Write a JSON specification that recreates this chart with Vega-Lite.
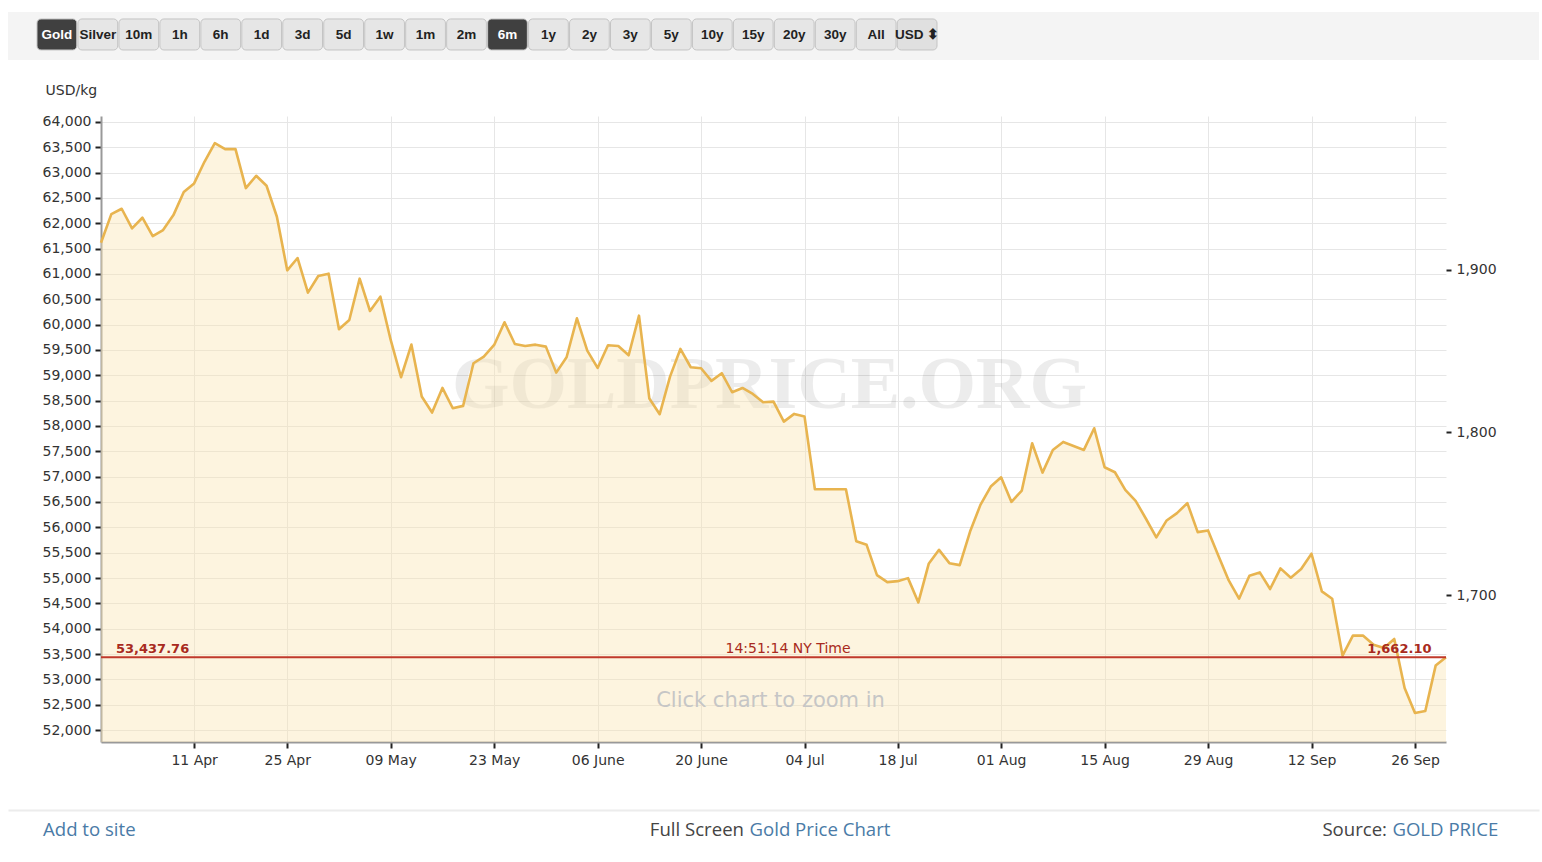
{
  "$schema": "https://vega.github.io/schema/vega-lite/v6.json",
  "background": "#ffffff",
  "padding": {"left": 8, "top": 12, "right": 3, "bottom": 7},
  "spacing": 56,
  "center": true,
  "bounds": "flush",
  "config": {
    "font": "DejaVu Sans",
    "view": {"stroke": null},
    "axisLeft": {"tickCount": 25, "labelOverlap": false}
  },
  "datasets": {
    "prices": [
      {"date": "2022-03-29", "usd_kg": 61615}, {"date": "2022-03-30", "usd_kg": 62180}, {"date": "2022-03-31", "usd_kg": 62285},
      {"date": "2022-04-01", "usd_kg": 61898}, {"date": "2022-04-04", "usd_kg": 62108}, {"date": "2022-04-05", "usd_kg": 61746},
      {"date": "2022-04-06", "usd_kg": 61865}, {"date": "2022-04-07", "usd_kg": 62160}, {"date": "2022-04-08", "usd_kg": 62614},
      {"date": "2022-04-11", "usd_kg": 62785}, {"date": "2022-04-12", "usd_kg": 63212}, {"date": "2022-04-13", "usd_kg": 63580},
      {"date": "2022-04-14", "usd_kg": 63461}, {"date": "2022-04-18", "usd_kg": 63461}, {"date": "2022-04-19", "usd_kg": 62693},
      {"date": "2022-04-20", "usd_kg": 62936}, {"date": "2022-04-21", "usd_kg": 62739}, {"date": "2022-04-22", "usd_kg": 62128},
      {"date": "2022-04-25", "usd_kg": 61070}, {"date": "2022-04-26", "usd_kg": 61313}, {"date": "2022-04-27", "usd_kg": 60630},
      {"date": "2022-04-28", "usd_kg": 60958}, {"date": "2022-04-29", "usd_kg": 61004}, {"date": "2022-05-02", "usd_kg": 59907},
      {"date": "2022-05-03", "usd_kg": 60091}, {"date": "2022-05-04", "usd_kg": 60906}, {"date": "2022-05-05", "usd_kg": 60268},
      {"date": "2022-05-06", "usd_kg": 60551}, {"date": "2022-05-09", "usd_kg": 59697}, {"date": "2022-05-10", "usd_kg": 58961},
      {"date": "2022-05-11", "usd_kg": 59605}, {"date": "2022-05-12", "usd_kg": 58580}, {"date": "2022-05-13", "usd_kg": 58264},
      {"date": "2022-05-16", "usd_kg": 58751}, {"date": "2022-05-17", "usd_kg": 58350}, {"date": "2022-05-18", "usd_kg": 58396},
      {"date": "2022-05-19", "usd_kg": 59237}, {"date": "2022-05-20", "usd_kg": 59368}, {"date": "2022-05-23", "usd_kg": 59598},
      {"date": "2022-05-24", "usd_kg": 60046}, {"date": "2022-05-25", "usd_kg": 59618}, {"date": "2022-05-26", "usd_kg": 59578},
      {"date": "2022-05-27", "usd_kg": 59604}, {"date": "2022-05-30", "usd_kg": 59565}, {"date": "2022-05-31", "usd_kg": 59052},
      {"date": "2022-06-01", "usd_kg": 59355}, {"date": "2022-06-02", "usd_kg": 60124}, {"date": "2022-06-03", "usd_kg": 59486},
      {"date": "2022-06-06", "usd_kg": 59145}, {"date": "2022-06-07", "usd_kg": 59592}, {"date": "2022-06-08", "usd_kg": 59578},
      {"date": "2022-06-09", "usd_kg": 59395}, {"date": "2022-06-10", "usd_kg": 60176}, {"date": "2022-06-13", "usd_kg": 58540},
      {"date": "2022-06-14", "usd_kg": 58232}, {"date": "2022-06-15", "usd_kg": 58973}, {"date": "2022-06-16", "usd_kg": 59519},
      {"date": "2022-06-17", "usd_kg": 59158}, {"date": "2022-06-20", "usd_kg": 59138}, {"date": "2022-06-21", "usd_kg": 58889},
      {"date": "2022-06-22", "usd_kg": 59040}, {"date": "2022-06-23", "usd_kg": 58665}, {"date": "2022-06-24", "usd_kg": 58750},
      {"date": "2022-06-27", "usd_kg": 58632}, {"date": "2022-06-28", "usd_kg": 58468}, {"date": "2022-06-29", "usd_kg": 58480},
      {"date": "2022-06-30", "usd_kg": 58086}, {"date": "2022-07-01", "usd_kg": 58238}, {"date": "2022-07-04", "usd_kg": 58185},
      {"date": "2022-07-05", "usd_kg": 56752}, {"date": "2022-07-06", "usd_kg": 56752}, {"date": "2022-07-07", "usd_kg": 56752},
      {"date": "2022-07-11", "usd_kg": 56752}, {"date": "2022-07-12", "usd_kg": 55727}, {"date": "2022-07-13", "usd_kg": 55655},
      {"date": "2022-07-14", "usd_kg": 55057}, {"date": "2022-07-15", "usd_kg": 54919}, {"date": "2022-07-18", "usd_kg": 54938},
      {"date": "2022-07-19", "usd_kg": 54998}, {"date": "2022-07-20", "usd_kg": 54518}, {"date": "2022-07-21", "usd_kg": 55280},
      {"date": "2022-07-22", "usd_kg": 55556}, {"date": "2022-07-25", "usd_kg": 55293}, {"date": "2022-07-26", "usd_kg": 55254},
      {"date": "2022-07-27", "usd_kg": 55917}, {"date": "2022-07-28", "usd_kg": 56443}, {"date": "2022-07-29", "usd_kg": 56804},
      {"date": "2022-08-01", "usd_kg": 56988}, {"date": "2022-08-02", "usd_kg": 56502}, {"date": "2022-08-03", "usd_kg": 56725},
      {"date": "2022-08-04", "usd_kg": 57658}, {"date": "2022-08-05", "usd_kg": 57080}, {"date": "2022-08-08", "usd_kg": 57527},
      {"date": "2022-08-09", "usd_kg": 57685}, {"date": "2022-08-10", "usd_kg": 57606}, {"date": "2022-08-11", "usd_kg": 57527},
      {"date": "2022-08-12", "usd_kg": 57954}, {"date": "2022-08-15", "usd_kg": 57185}, {"date": "2022-08-16", "usd_kg": 57087},
      {"date": "2022-08-17", "usd_kg": 56739}, {"date": "2022-08-18", "usd_kg": 56524}, {"date": "2022-08-19", "usd_kg": 56169},
      {"date": "2022-08-22", "usd_kg": 55801}, {"date": "2022-08-23", "usd_kg": 56136}, {"date": "2022-08-24", "usd_kg": 56281},
      {"date": "2022-08-25", "usd_kg": 56478}, {"date": "2022-08-26", "usd_kg": 55906}, {"date": "2022-08-29", "usd_kg": 55939},
      {"date": "2022-08-30", "usd_kg": 55440}, {"date": "2022-08-31", "usd_kg": 54953}, {"date": "2022-09-01", "usd_kg": 54592},
      {"date": "2022-09-02", "usd_kg": 55045}, {"date": "2022-09-05", "usd_kg": 55111}, {"date": "2022-09-06", "usd_kg": 54783},
      {"date": "2022-09-07", "usd_kg": 55190}, {"date": "2022-09-08", "usd_kg": 55006}, {"date": "2022-09-09", "usd_kg": 55177},
      {"date": "2022-09-12", "usd_kg": 55479}, {"date": "2022-09-13", "usd_kg": 54737}, {"date": "2022-09-14", "usd_kg": 54592},
      {"date": "2022-09-15", "usd_kg": 53469}, {"date": "2022-09-16", "usd_kg": 53863}, {"date": "2022-09-19", "usd_kg": 53863},
      {"date": "2022-09-20", "usd_kg": 53685}, {"date": "2022-09-21", "usd_kg": 53620}, {"date": "2022-09-22", "usd_kg": 53797},
      {"date": "2022-09-23", "usd_kg": 52831}, {"date": "2022-09-26", "usd_kg": 52339}, {"date": "2022-09-27", "usd_kg": 52378},
      {"date": "2022-09-28", "usd_kg": 53272}, {"date": "2022-09-29", "usd_kg": 53437.76}
    ],
    "current": [{"usd_kg": 53437.76, "usd_oz": 1662.10, "time": "14:51:14 NY Time"}],
    "buttons": [
      {"label": "Gold", "state": "on"}, {"label": "Silver", "state": "off"}, {"label": "10m", "state": "off"},
      {"label": "1h", "state": "off"}, {"label": "6h", "state": "off"}, {"label": "1d", "state": "off"},
      {"label": "3d", "state": "off"}, {"label": "5d", "state": "off"}, {"label": "1w", "state": "off"},
      {"label": "1m", "state": "off"}, {"label": "2m", "state": "off"}, {"label": "6m", "state": "on"},
      {"label": "1y", "state": "off"}, {"label": "2y", "state": "off"}, {"label": "3y", "state": "off"},
      {"label": "5y", "state": "off"}, {"label": "10y", "state": "off"}, {"label": "15y", "state": "off"},
      {"label": "20y", "state": "off"}, {"label": "30y", "state": "off"}, {"label": "All", "state": "off"},
      {"label": "USD ⬍", "state": "menu"}
    ],
    "footer": [
      {"label": "Add to site", "slot": "left"},
      {"label": "Full Screen", "slot": "center"},
      {"label": "Gold Price Chart", "slot": "center"},
      {"label": "Source:", "slot": "right"},
      {"label": "GOLD PRICE", "slot": "right"}
    ]
  },
  "vconcat": [
    {
      "width": 1531,
      "height": 48,
      "view": {"fill": "#f4f4f4", "stroke": null},
      "data": {"name": "buttons"},
      "encoding": {
        "x": {"field": "label", "type": "nominal", "sort": null, "axis": null,
              "scale": {"type": "band", "paddingInner": 0.03, "paddingOuter": 0, "range": [29, 929]}},
        "y": {"datum": "toolbar", "type": "nominal", "axis": null,
              "scale": {"type": "band", "paddingInner": 0, "paddingOuter": 0.274, "align": 0.41}}
      },
      "layer": [
        {
          "mark": {"type": "rect", "cornerRadius": 4, "stroke": "#c4c4c4", "strokeWidth": 1},
          "encoding": {
            "fill": {"field": "state", "type": "nominal", "legend": null,
                     "scale": {"domain": ["on", "off", "menu"], "range": ["#404040", "#e6e6e6", "#e0e0e0"]}}
          }
        },
        {
          "mark": {"type": "text", "font": "Liberation Sans", "fontWeight": "bold", "fontSize": 13.5, "dy": 1},
          "encoding": {
            "text": {"field": "label"},
            "color": {"field": "state", "type": "nominal", "legend": null,
                      "scale": {"domain": ["on", "off", "menu"], "range": ["#ffffff", "#222222", "#222222"]}}
          }
        }
      ]
    },
    {
      "width": 1345,
      "height": 626,
      "view": {"stroke": null},
      "layer": [
        {
          "layer": [
            {
              "data": {"values": [{"label": "GOLDPRICE.ORG"}]},
              "mark": {"type": "text", "font": "Liberation Serif", "fontWeight": "bold", "fontSize": 74,
                       "color": "#000000", "opacity": 0.07, "baseline": "alphabetic", "dx": -4},
              "encoding": {
                "text": {"field": "label"},
                "y": {"datum": 58356, "type": "quantitative"}
              }
            },
            {
              "data": {"name": "prices"},
              "mark": {"type": "area", "color": "#F9E3AE", "opacity": 0.4},
              "encoding": {
                "x": {"field": "date", "type": "ordinal", "scale": {"type": "point", "padding": 0},
                      "axis": {
                        "values": ["2022-04-11", "2022-04-25", "2022-05-09", "2022-05-23", "2022-06-06", "2022-06-20",
                                   "2022-07-04", "2022-07-18", "2022-08-01", "2022-08-15", "2022-08-29", "2022-09-12", "2022-09-26"],
                        "labelExpr": "replace(utcFormat(toDate(datum.value), '%d %b'), 'Jun', 'June')",
                        "title": null, "labelAngle": 0, "grid": true, "gridColor": "#e6e6e6", "gridWidth": 1,
                        "domainColor": "#999999", "domainWidth": 2, "tickColor": "#222222", "tickWidth": 2, "tickSize": 6,
                        "labelPadding": 5, "labelFont": "DejaVu Sans", "labelFontSize": 14, "labelColor": "#333333",
                        "labelOverlap": false
                      }},
                "y": {"field": "usd_kg", "type": "quantitative",
                      "scale": {"domain": [51765, 64115], "zero": false, "nice": false},
                      "axis": {
                        "values": [52000, 52500, 53000, 53500, 54000, 54500, 55000, 55500, 56000, 56500, 57000, 57500, 58000,
                                   58500, 59000, 59500, 60000, 60500, 61000, 61500, 62000, 62500, 63000, 63500, 64000],
                        "tickCount": 25,
                        "format": ",d", "grid": true, "gridColor": "#e6e6e6", "gridWidth": 1, "labelOverlap": false,
                        "domainColor": "#999999", "domainWidth": 2, "tickColor": "#222222", "tickWidth": 2, "tickSize": 6,
                        "labelPadding": 4, "labelFont": "DejaVu Sans", "labelFontSize": 14, "labelColor": "#333333",
                        "title": "USD/kg", "titleAngle": 0, "titleX": -56, "titleY": -26, "titleAlign": "left",
                        "titleBaseline": "middle", "titleFont": "DejaVu Sans", "titleFontSize": 14,
                        "titleFontWeight": "normal", "titleColor": "#333333"
                      }},
                "y2": {"datum": 51765}
              }
            },
            {
              "data": {"name": "prices"},
              "mark": {"type": "line", "color": "#E8B44F", "strokeWidth": 2.6, "strokeJoin": "round"},
              "encoding": {
                "x": {"field": "date", "type": "ordinal"},
                "y": {"field": "usd_kg", "type": "quantitative"}
              }
            },
            {
              "data": {"name": "current"},
              "mark": {"type": "rule", "color": "#c0392b", "strokeWidth": 2},
              "encoding": {
                "y": {"field": "usd_kg", "type": "quantitative"}
              }
            },
            {
              "data": {"name": "current"},
              "mark": {"type": "text", "align": "left", "baseline": "alphabetic", "dx": 15, "dy": -4,
                       "fontSize": 13, "fontWeight": "bold", "color": "#a82a20"},
              "encoding": {
                "x": {"datum": "2022-03-29", "type": "ordinal"},
                "y": {"field": "usd_kg", "type": "quantitative"},
                "text": {"field": "usd_kg", "type": "quantitative", "format": ",.2f"}
              }
            },
            {
              "data": {"name": "current"},
              "mark": {"type": "text", "align": "center", "baseline": "alphabetic", "dx": 14.5, "dy": -4,
                       "fontSize": 14, "color": "#a82a20"},
              "encoding": {
                "y": {"field": "usd_kg", "type": "quantitative"},
                "text": {"field": "time"}
              }
            },
            {
              "data": {"values": [{"label": "Click chart to zoom in"}]},
              "mark": {"type": "text", "fontSize": 21, "color": "#c6c6c6", "baseline": "middle", "dx": -3},
              "encoding": {
                "text": {"field": "label"},
                "y": {"datum": 52581, "type": "quantitative"}
              }
            }
          ]
        },
        {
          "data": {"name": "current"},
          "mark": {"type": "text", "align": "right", "baseline": "alphabetic", "dx": -14.5, "dy": -4,
                   "fontSize": 13, "fontWeight": "bold", "color": "#a82a20"},
          "encoding": {
            "x": {"datum": "2022-09-29", "type": "ordinal"},
            "y": {"field": "usd_oz", "type": "quantitative",
                  "scale": {"domain": [1610.08, 1994.2], "zero": false, "nice": false},
                  "axis": {"orient": "right", "values": [1700, 1800, 1900], "format": ",d", "title": null,
                           "domain": false, "grid": false, "tickColor": "#222222", "tickWidth": 2, "tickSize": 5,
                           "labelPadding": 5, "labelFont": "DejaVu Sans", "labelFontSize": 14, "labelColor": "#333333"}},
            "text": {"field": "usd_oz", "type": "quantitative", "format": ",.2f"}
          }
        }
      ],
      "resolve": {"scale": {"y": "independent"}}
    },
    {
      "width": 1531,
      "height": 57,
      "view": {"stroke": null},
      "data": {"name": "footer"},
      "encoding": {
        "x": {"field": "slot", "type": "nominal",
              "scale": {"type": "point", "domain": ["left", "center", "right"], "padding": 0},
              "axis": {"orient": "top", "offset": -12, "labels": false, "ticks": false, "grid": false, "title": null,
                       "domainColor": "#ececec", "domainWidth": 2}}
      },
      "layer": [
        {
          "transform": [{"filter": "datum.label == 'Add to site'"}],
          "mark": {"type": "text", "align": "left", "dx": 35, "dy": 3.5, "font": "Open Sans", "fontSize": 18.6, "color": "#4a7ba7"},
          "encoding": {"text": {"field": "label"}}
        },
        {
          "transform": [{"filter": "datum.label == 'Full Screen'"}],
          "mark": {"type": "text", "align": "right", "dx": -29.5, "dy": 3.5, "font": "Open Sans", "fontSize": 18.6, "color": "#444444"},
          "encoding": {"text": {"field": "label"}}
        },
        {
          "transform": [{"filter": "datum.label == 'Gold Price Chart'"}],
          "mark": {"type": "text", "align": "left", "dx": -24, "dy": 3.5, "font": "Open Sans", "fontSize": 18.6, "color": "#4a7ba7"},
          "encoding": {"text": {"field": "label"}}
        },
        {
          "transform": [{"filter": "datum.label == 'Source:'"}],
          "mark": {"type": "text", "align": "right", "dx": -152, "dy": 3.5, "font": "Open Sans", "fontSize": 18.6, "color": "#444444"},
          "encoding": {"text": {"field": "label"}}
        },
        {
          "transform": [{"filter": "datum.label == 'GOLD PRICE'"}],
          "mark": {"type": "text", "align": "right", "dx": -40.7, "dy": 3.5, "font": "Open Sans", "fontSize": 18.6, "color": "#4a7ba7"},
          "encoding": {"text": {"field": "label"}}
        }
      ]
    }
  ]
}
